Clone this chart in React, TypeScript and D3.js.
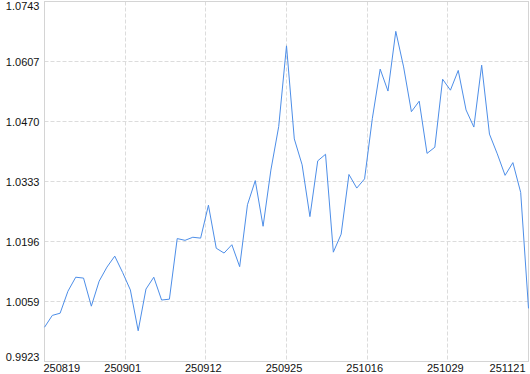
import React from "react";
import * as d3 from "d3";

const values: number[] = [
  1.0001, 1.0028, 1.0033, 1.0083, 1.0115, 1.0113, 1.0049, 1.0106, 1.0138, 1.0163,
  1.0126, 1.0086, 0.9993, 1.0088, 1.0115, 1.0063, 1.0065, 1.0203, 1.0199, 1.0206,
  1.0204, 1.0279, 1.0181, 1.0170, 1.0189, 1.0139, 1.0280, 1.0335, 1.0231, 1.0359,
  1.0458, 1.0642, 1.0430, 1.0371, 1.0253, 1.0380, 1.0395, 1.0172, 1.0213, 1.0349,
  1.0318, 1.0339, 1.0477, 1.0589, 1.0539, 1.0675, 1.0594, 1.0492, 1.0516, 1.0397,
  1.0411, 1.0566, 1.0541, 1.0586, 1.0496, 1.0457, 1.0598, 1.0441, 1.0396, 1.0347,
  1.0376, 1.0308, 1.0044,
];

const xTickLabels: string[] = ["250819", "250901", "250912", "250925", "251016", "251029", "251121"];
const yTickLabels: string[] = ["0.9923", "1.0059", "1.0196", "1.0333", "1.0470", "1.0607", "1.0743"];
const yMin = 0.9923;
const yMax = 1.0743;

const W = 530;
const H = 374;
const left = 44.5;
const right = 528.5;
const top = 1.5;
const bottom = 361.5;

export default function App() {
  const x = d3.scaleLinear().domain([0, values.length - 1]).range([left, right]);
  const y = d3.scaleLinear().domain([yMin, yMax]).range([bottom, top]);
  const xt = d3.scaleLinear().domain([0, xTickLabels.length - 1]).range([left, right]);
  const yStep = (yMax - yMin) / (yTickLabels.length - 1);

  const line = d3
    .line<number>()
    .x((_, i) => x(i))
    .y((d) => y(d));

  const font = "'Liberation Sans', Arial, sans-serif";
  const grid = "#dcdcdc";
  const axis = "#d4d4d4";

  return (
    <div style={{ position: "fixed", left: 0, top: 0 }}>
      <svg width={W} height={H} style={{ display: "block", background: "#fff" }}>
        {yTickLabels.map((lab, k) => {
          const yy = Math.round(y(yMin + k * yStep) - 0.5) + 0.5;
          return (
            <line key={"gy" + k} x1={left} x2={right} y1={yy} y2={yy} stroke={grid} strokeDasharray="4,2" />
          );
        })}
        {xTickLabels.map((lab, k) => {
          const xx = Math.round(xt(k) - 0.5) + 0.5;
          return (
            <line key={"gx" + k} x1={xx} x2={xx} y1={top} y2={bottom} stroke={grid} strokeDasharray="4,2" />
          );
        })}
        <rect x={left} y={top} width={right - left} height={bottom - top} fill="none" stroke={axis} />
        <path d={line(values) || ""} fill="none" stroke="#4d8ee8" strokeWidth={1} />
        {yTickLabels.map((lab, k) => {
          let yy = y(yMin + k * yStep);
          yy = Math.max(5.5, Math.min(356.5, yy));
          return (
            <text
              key={"ly" + k}
              x={39.5}
              y={yy}
              textAnchor="end"
              dominantBaseline="central"
              fontFamily={font}
              fontSize={11}
              fill="#111"
            >
              {lab}
            </text>
          );
        })}
        {xTickLabels.map((lab, k) => {
          const xx = xt(k);
          const last = k === xTickLabels.length - 1;
          const first = k === 0;
          return (
            <text
              key={"lx" + k}
              x={first ? 43.5 : last ? 525.5 : xx - 2.5}
              y={372}
              textAnchor={first ? "start" : last ? "end" : "middle"}
              fontFamily={font}
              fontSize={11}
              fill="#111"
            >
              {lab}
            </text>
          );
        })}
      </svg>
    </div>
  );
}
